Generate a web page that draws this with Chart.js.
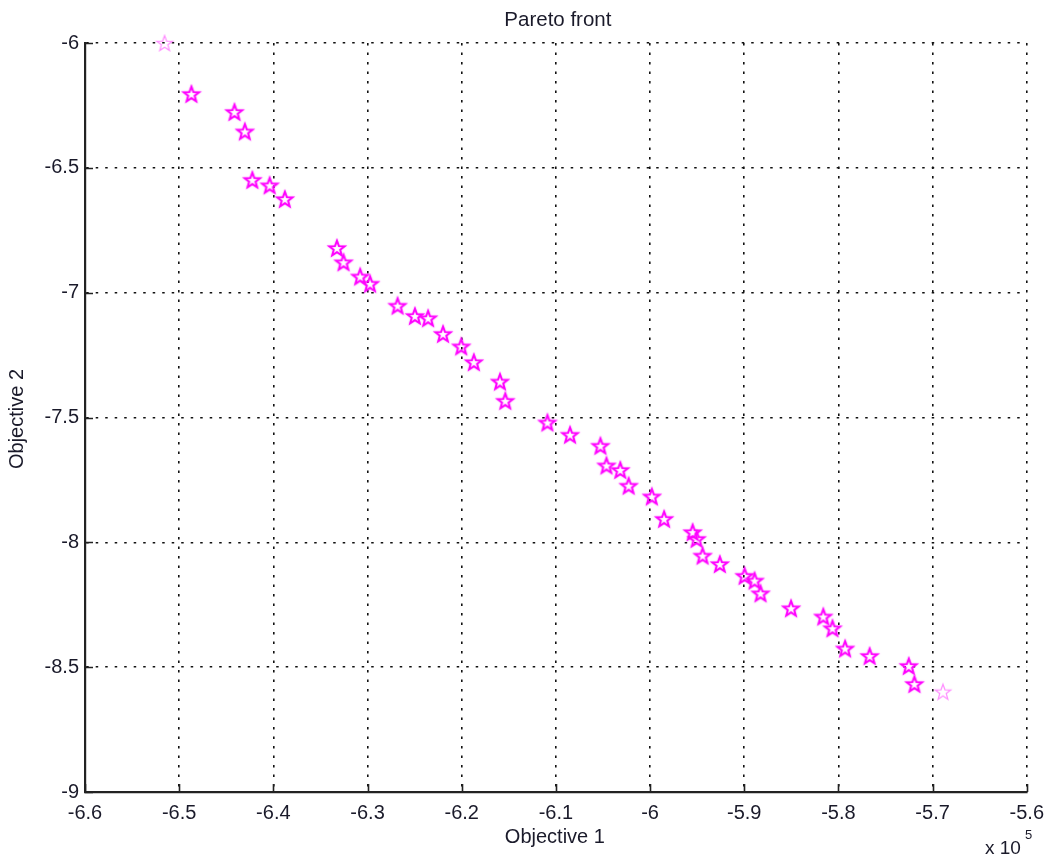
<!DOCTYPE html>
<html>
<head>
<meta charset="utf-8">
<script src="https://cdn.jsdelivr.net/npm/chart.js@4/dist/chart.umd.min.js"></script>
<style>
  html, body { margin: 0; padding: 0; background: #fff; }
  #wrap { width: 1053px; height: 861px; }
</style>
</head>
<body>
<div id="wrap"><canvas id="c" width="1053" height="861"></canvas></div>
<script>
// Objective 1 values (raw) and Objective 2 values of the Pareto set
const objective1 = [
  -651550, -648700, -644130, -643030, -642230, -640390, -638780, -633250, -632550,
  -630780, -629730, -626810, -624970, -623570, -621980, -620050, -618710, -615940,
  -615370, -610900, -608500, -605270, -604630, -603160, -602270, -599810, -598510,
  -595480, -595060, -594420, -592590, -589960, -588900, -588270, -585030, -581610,
  -580630, -579290, -576680, -572530, -571930, -568900
];
const objective2 = [
  -6.00, -6.204, -6.276, -6.354, -6.548, -6.570, -6.625, -6.821, -6.878,
  -6.935, -6.964, -7.052, -7.093, -7.102, -7.165, -7.215, -7.278, -7.356,
  -7.433, -7.520, -7.569, -7.613, -7.692, -7.710, -7.773, -7.816, -7.906,
  -7.959, -7.986, -8.053, -8.087, -8.134, -8.153, -8.204, -8.264, -8.297,
  -8.344, -8.425, -8.455, -8.495, -8.567, -8.598
];
const xTicks = [-660000, -650000, -640000, -630000, -620000, -610000, -600000, -590000, -580000, -570000, -560000];
const yTicks = [-6, -6.5, -7, -7.5, -8, -8.5, -9];
const xExponent = 5;

const FONT = "'Liberation Sans', Arial, Helvetica, sans-serif";
const TEXT = '#1a1a2a';

// pentagram marker image
function starMarker(color, lw, glow) {
  const s = 24, c = document.createElement('canvas');
  c.width = s; c.height = s;
  const g = c.getContext('2d');
  const R = 8.2, r = 3.4, cx = s / 2, cy = s / 2 + 0.8;
  g.beginPath();
  for (let i = 0; i < 10; i++) {
    const rad = i % 2 === 0 ? R : r;
    const a = -Math.PI / 2 + i * Math.PI / 5;
    const px = cx + rad * Math.cos(a), py = cy + rad * Math.sin(a);
    if (i === 0) g.moveTo(px, py); else g.lineTo(px, py);
  }
  g.closePath();
  g.lineJoin = 'miter';
  g.strokeStyle = color;
  g.lineWidth = lw;
  if (glow) { g.shadowColor = 'rgba(255,0,255,0.5)'; g.shadowBlur = 1.5; }
  g.stroke();
  return c;
}
const starStrong = starMarker('#ff00ff', 1.8, true);
const starPale = starMarker('#ff90ff', 1.3, false);

const points = objective1.map((v, i) => ({ x: v, y: objective2[i] }));
const pointStyles = points.map((p, i) => (i === 0 || i === points.length - 1) ? starPale : starStrong);

// inward tick marks and extra annotation text
const decor = {
  id: 'decor',
  afterDraw(chart) {
    const { ctx, chartArea: a, scales } = chart;
    ctx.save();
    ctx.strokeStyle = '#222';
    ctx.lineWidth = 1.6;
    ctx.beginPath();
    xTicks.forEach(t => {
      const px = Math.round(scales.x.getPixelForValue(t)) + 0.5;
      ctx.moveTo(px, a.bottom); ctx.lineTo(px, a.bottom - 8);
    });
    yTicks.forEach(t => {
      const py = Math.round(scales.y.getPixelForValue(t)) + 0.5;
      ctx.moveTo(a.left, py); ctx.lineTo(a.left + 8, py);
    });
    ctx.stroke();

    ctx.fillStyle = TEXT;
    ctx.textAlign = 'center';
    ctx.textBaseline = 'middle';
    const cx = (a.left + a.right) / 2;
    ctx.font = '20.5px ' + FONT;
    ctx.fillText('Pareto front', cx + 2, 20);
    ctx.font = '20px ' + FONT;
    ctx.fillText('Objective 1', cx - 1, 837);
    ctx.save();
    ctx.translate(17, 419);
    ctx.rotate(-Math.PI / 2);
    ctx.fillText('Objective 2', 0, 0);
    ctx.restore();
    ctx.textAlign = 'left';
    ctx.font = '19px ' + FONT;
    ctx.fillText('x 10', 985, 849);
    ctx.font = '13px ' + FONT;
    ctx.fillText(String(xExponent), 1025, 835);
    ctx.restore();
  }
};

const gridCommon = {
  color: '#111',
  lineWidth: 1.6,
  drawTicks: false
};

new Chart(document.getElementById('c'), {
  type: 'scatter',
  data: {
    datasets: [{
      data: points,
      pointStyle: pointStyles,
      pointRadius: 8,
      pointHoverRadius: 8,
      showLine: false,
      clip: false
    }]
  },
  options: {
    responsive: false,
    animation: false,
    events: [],
    layout: { padding: { left: 0, right: 21, top: 43, bottom: 0 } },
    plugins: { legend: { display: false }, tooltip: { enabled: false } },
    scales: {
      x: {
        type: 'linear',
        min: -660000, max: -560000,
        afterBuildTicks: s => { s.ticks = xTicks.map(v => ({ value: v })); },
        afterFit: s => { s.height = 69; },
        grid: gridCommon,
        border: { display: true, color: '#222', width: 2.2, dash: [2.5, 7] },
        ticks: {
          padding: 9,
          color: TEXT,
          font: { family: FONT, size: 20 },
          maxRotation: 0,
          autoSkip: false,
          callback: v => String(Math.round(v / Math.pow(10, xExponent - 1)) / 10)
        }
      },
      y: {
        type: 'linear',
        min: -9, max: -6,
        afterBuildTicks: s => { s.ticks = yTicks.map(v => ({ value: v })); },
        afterFit: s => { s.width = 85; },
        grid: gridCommon,
        border: { display: true, color: '#222', width: 2.2, dash: [2.5, 7] },
        ticks: {
          padding: 6,
          color: TEXT,
          font: { family: FONT, size: 20 },
          autoSkip: false,
          callback: v => String(v)
        }
      }
    }
  },
  plugins: [decor]
});
</script>
</body>
</html>
